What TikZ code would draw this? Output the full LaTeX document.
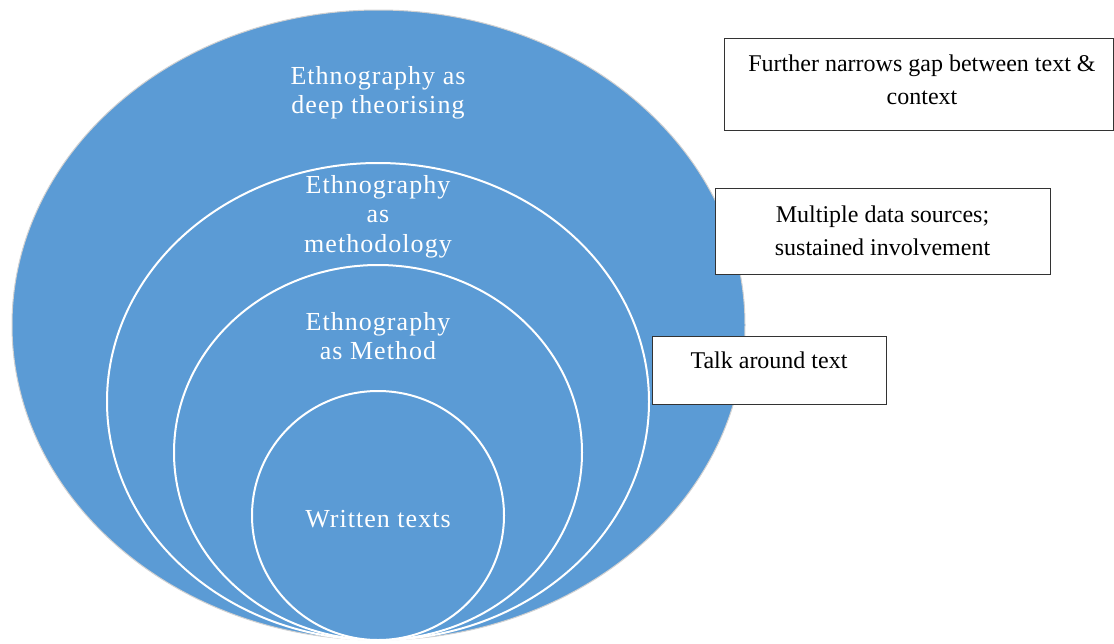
\documentclass[tikz,border=0pt]{standalone}
\usepackage{fontspec}
\setmainfont{Liberation Serif}
\newfontfamily\circfont[LetterSpace=4]{Liberation Serif}
\definecolor{ringblue}{HTML}{5B9BD5}
\definecolor{boxline}{HTML}{333333}
\tikzset{
  ring/.style={fill=ringblue, draw=white, line width=2pt},
  outerring/.style={fill=ringblue, draw=black!18, line width=1pt},
  ringtext/.style={text=white, align=center, inner sep=0pt, font=\circfont\fontsize{26}{29.5}\selectfont},
  infobox/.style={draw=boxline, line width=1.3pt, fill=white, rectangle, inner sep=0pt},
  boxtext/.style={text=black, align=center, inner sep=0pt, font=\fontsize{24}{33}\selectfont}
}
\begin{document}
\begin{tikzpicture}[x=1pt,y=-1pt]
\useasboundingbox (0,0) rectangle (1114,643);
% nested ellipses
\path[outerring] (378.5,325) ellipse [x radius=366.5, y radius=315];
\path[ring] (378,401.5) ellipse [x radius=271, y radius=238.5];
\path[ring] (378,452.5) ellipse [x radius=204, y radius=187.5];
\path[ring] (378,515.5) ellipse [x radius=126, y radius=124.5];
% ring labels
\node[ringtext, anchor=north] (t1) at (378,66) {Ethnography as\\deep theorising};
\node[ringtext, anchor=north] (t2) at (378,175) {Ethnography\\as\\methodology};
\node[ringtext, anchor=north] (t3) at (378,312) {Ethnography\\as Method};
\node[ringtext, anchor=base] (t4) at (378,527) {Written texts};
% boxes
\node[infobox, minimum width=389pt, minimum height=92pt, anchor=north west] (b1) at (724,38) {};
\node[infobox, minimum width=335pt, minimum height=86pt, anchor=north west] (b2) at (715,188) {};
\node[infobox, minimum width=234pt, minimum height=68pt, anchor=north west] (b3) at (652,336) {};
\node[boxtext, anchor=north] (bt1) at (922,54.5) {Further narrows gap between text \&\\context};
\node[boxtext, anchor=north] (bt2) at (882.5,205.5) {Multiple data sources;\\sustained involvement};
\node[boxtext, anchor=north] (bt3) at (769,352) {Talk around text};
\end{tikzpicture}
\end{document}
